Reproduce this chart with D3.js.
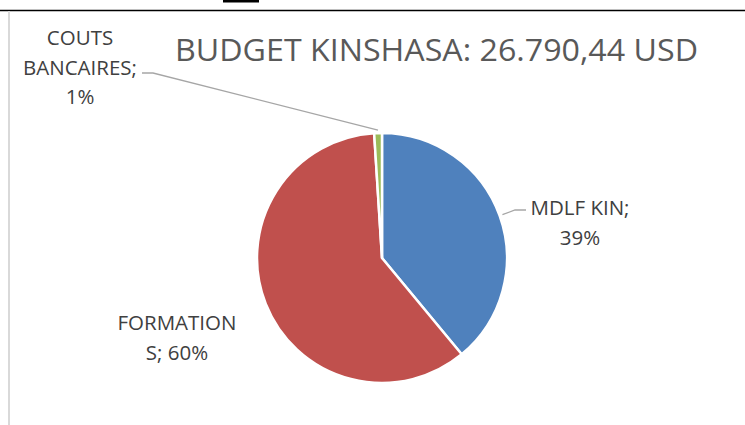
<!DOCTYPE html>
<html>
<head>
<meta charset="utf-8">
<script src="https://cdn.jsdelivr.net/npm/d3@7"></script>
<style>
  html, body { margin: 0; padding: 0; background: #fff; }
  svg { display: block; font-family: "Open Sans", sans-serif; }
</style>
</head>
<body>
<div id="chart"></div>
<script>
// chart data
var categories = ["MDLF KIN", "FORMATIONS", "COUTS BANCAIRES"];
var shares = [39, 60, 1];
var colors = ["#4F81BD", "#C0504D", "#9BBB59"];
var labelLines = [["MDLF KIN;", "39%"], ["FORMATION", "S; 60%"], ["COUTS", "BANCAIRES;", "1%"]];
var title = "BUDGET KINSHASA: 26.790,44 USD";

var width = 745, height = 425;
var cx = 382, cy = 258, radius = 125;

var svg = d3.select("#chart").append("svg")
    .attr("width", width)
    .attr("height", height);

// page bits around the chart (cut off document border)
svg.append("line")
    .attr("x1", 0).attr("x2", width)
    .attr("y1", 10.5).attr("y2", 10.5)
    .attr("stroke", "#000").attr("stroke-width", 1.5);
svg.append("rect")
    .attr("x", 223).attr("y", 0).attr("width", 36).attr("height", 2.5)
    .attr("fill", "#000");
svg.append("line")
    .attr("x1", 9).attr("x2", 9)
    .attr("y1", 11).attr("y2", height)
    .attr("stroke", "#D9D9D9").attr("stroke-width", 2);

// title
svg.append("text")
    .attr("x", 436.5)
    .attr("y", 61)
    .attr("text-anchor", "middle")
    .attr("font-size", 31)
    .attr("fill", "#595959")
    .attr("textLength", 523)
    .attr("lengthAdjust", "spacingAndGlyphs")
    .text(title);

var data = categories.map(function(c, i) {
    return {name: c, value: shares[i], color: colors[i], lines: labelLines[i]};
});

var pie = d3.pie()
    .sort(null)
    .value(function(d) { return d.value; });

var arc = d3.arc()
    .innerRadius(0)
    .outerRadius(radius);

var arcs = pie(data);

var g = svg.append("g")
    .attr("transform", "translate(" + cx + "," + cy + ")");

g.selectAll(".slice")
    .data(arcs)
    .enter().append("path")
    .attr("class", "slice")
    .attr("d", arc)
    .attr("fill", function(d) { return d.data.color; })
    .attr("stroke", "#fff")
    .attr("stroke-width", 2.5)
    .attr("stroke-linejoin", "round");

// label layout (best-fit places as in the original)
var labelPos = [
    {x: 580, y: 215, leader: [[515, 210], [526, 210]]},
    {x: 177, y: 330, leader: null},
    {x: 80, y: 45, leader: [[153, 73], [142, 73]]}
];
var lineH = 29.5;

function edgePoint(d, r) {
    var a = (d.startAngle + d.endAngle) / 2;
    return [cx + Math.sin(a) * r, cy - Math.cos(a) * r];
}

arcs.forEach(function(d, i) {
    var p = labelPos[i];
    if (p.leader) {
        var pts = [edgePoint(d, radius + 3)].concat(p.leader);
        svg.append("path")
            .attr("d", d3.line()(pts))
            .attr("fill", "none")
            .attr("stroke", "#A6A6A6")
            .attr("stroke-width", 1.3);
    }
    var t = svg.append("text")
        .attr("text-anchor", "middle")
        .attr("font-size", 20.5)
        .attr("fill", "#404040");
    d.data.lines.forEach(function(line, k) {
        t.append("tspan")
            .attr("x", p.x)
            .attr("y", p.y + k * lineH)
            .text(line);
    });
});
</script>
</body>
</html>
